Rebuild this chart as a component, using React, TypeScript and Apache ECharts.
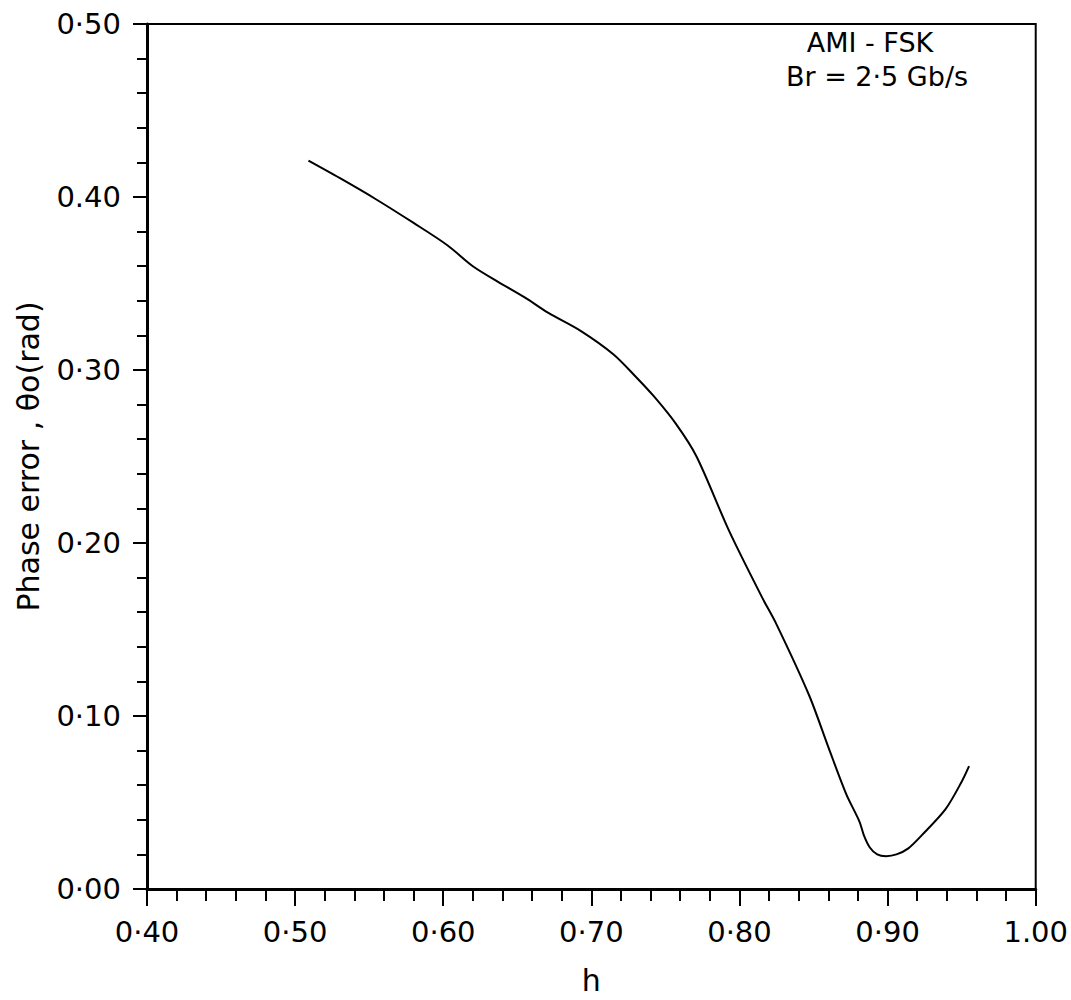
import React, { useEffect, useRef } from "react";
import * as echarts from "echarts";

const hValues = [0.509, 0.530, 0.554, 0.580, 0.603, 0.620, 0.637, 0.655, 0.671, 0.693, 0.715, 0.729, 0.742, 0.757, 0.771, 0.793, 0.815, 0.825, 0.847, 0.860, 0.872, 0.881, 0.884, 0.888, 0.893, 0.899, 0.906, 0.914, 0.923, 0.939, 0.950, 0.955];
const phaseError = [0.421, 0.411, 0.399, 0.385, 0.372, 0.360, 0.351, 0.342, 0.333, 0.3225, 0.309, 0.297, 0.285, 0.269, 0.250, 0.207, 0.169, 0.153, 0.112, 0.082, 0.055, 0.039, 0.031, 0.024, 0.020, 0.019, 0.020, 0.0235, 0.031, 0.046, 0.062, 0.071];

const xTickLabels = ["0·40", "0·50", "0·60", "0·70", "0·80", "0·90", "1.00"];
const yTickLabels = ["0·00", "0·10", "0·20", "0·30", "0.40", "0·50"];

const xName = "h";
const yName = "Phase error , θo(rad)";
const noteLine1 = "AMI - FSK";
const noteLine2 = "Br = 2·5 Gb/s";

const FONT = "DejaVu Sans";

export default function App() {
  const ref = useRef<HTMLDivElement>(null);
  useEffect(() => {
    if (!ref.current) return;
    const chart = echarts.init(ref.current, null, { renderer: "svg" });
    const data = hValues.map((h, i) => [h, phaseError[i]]);
    chart.setOption({
      animation: false,
      backgroundColor: "#fff",
      grid: {
        left: 147,
        right: 26,
        top: 24,
        bottom: 109,
        show: true,
        borderColor: "#000",
        borderWidth: 2,
        backgroundColor: "transparent",
      },
      xAxis: {
        type: "value",
        min: 0.4,
        max: 1.0,
        interval: 0.1,
        name: xName,
        nameLocation: "middle",
        nameGap: 76,
        nameTextStyle: { fontFamily: FONT, fontSize: 30, color: "#000" },
        axisLine: { show: true, onZero: false, lineStyle: { color: "#000", width: 3 } },
        axisTick: { show: true, length: 17, lineStyle: { color: "#000", width: 2 } },
        minorTick: { show: true, splitNumber: 5, length: 12, lineStyle: { color: "#000", width: 2 } },
        splitLine: { show: false },
        axisLabel: {
          margin: 28,
          fontFamily: FONT,
          fontSize: 29,
          color: "#000",
          formatter: (v: number) => xTickLabels[Math.round((v - 0.4) / 0.1)] ?? "",
        },
      },
      yAxis: {
        type: "value",
        min: 0,
        max: 0.5,
        interval: 0.1,
        name: yName,
        nameLocation: "middle",
        nameGap: 104,
        nameTextStyle: { fontFamily: FONT, fontSize: 30, color: "#000" },
        axisLine: { show: true, onZero: false, lineStyle: { color: "#000", width: 3 } },
        axisTick: { show: true, length: 14, lineStyle: { color: "#000", width: 2 } },
        minorTick: { show: true, splitNumber: 5, length: 10, lineStyle: { color: "#000", width: 2 } },
        splitLine: { show: false },
        axisLabel: {
          margin: 26,
          fontFamily: FONT,
          fontSize: 29,
          color: "#000",
          formatter: (v: number) => yTickLabels[Math.round(v / 0.1)] ?? "",
        },
      },
      graphic: [
        {
          type: "text",
          x: 870,
          y: 42,
          style: {
            text: noteLine1,
            fontFamily: FONT,
            fontSize: 27,
            fill: "#000",
            textAlign: "center",
            textVerticalAlign: "middle",
          },
        },
        {
          type: "text",
          x: 877,
          y: 76,
          style: {
            text: noteLine2,
            fontFamily: FONT,
            fontSize: 27,
            fill: "#000",
            textAlign: "center",
            textVerticalAlign: "middle",
          },
        },
      ],
      series: [
        {
          type: "line",
          data,
          smooth: 0.3,
          showSymbol: false,
          symbol: "none",
          lineStyle: { color: "#000", width: 2 },
        },
      ],
    });
    return () => chart.dispose();
  }, []);
  return (
    <div
      ref={ref}
      style={{ position: "fixed", left: 0, top: 0, width: 1071, height: 1000, background: "#fff" }}
    />
  );
}
